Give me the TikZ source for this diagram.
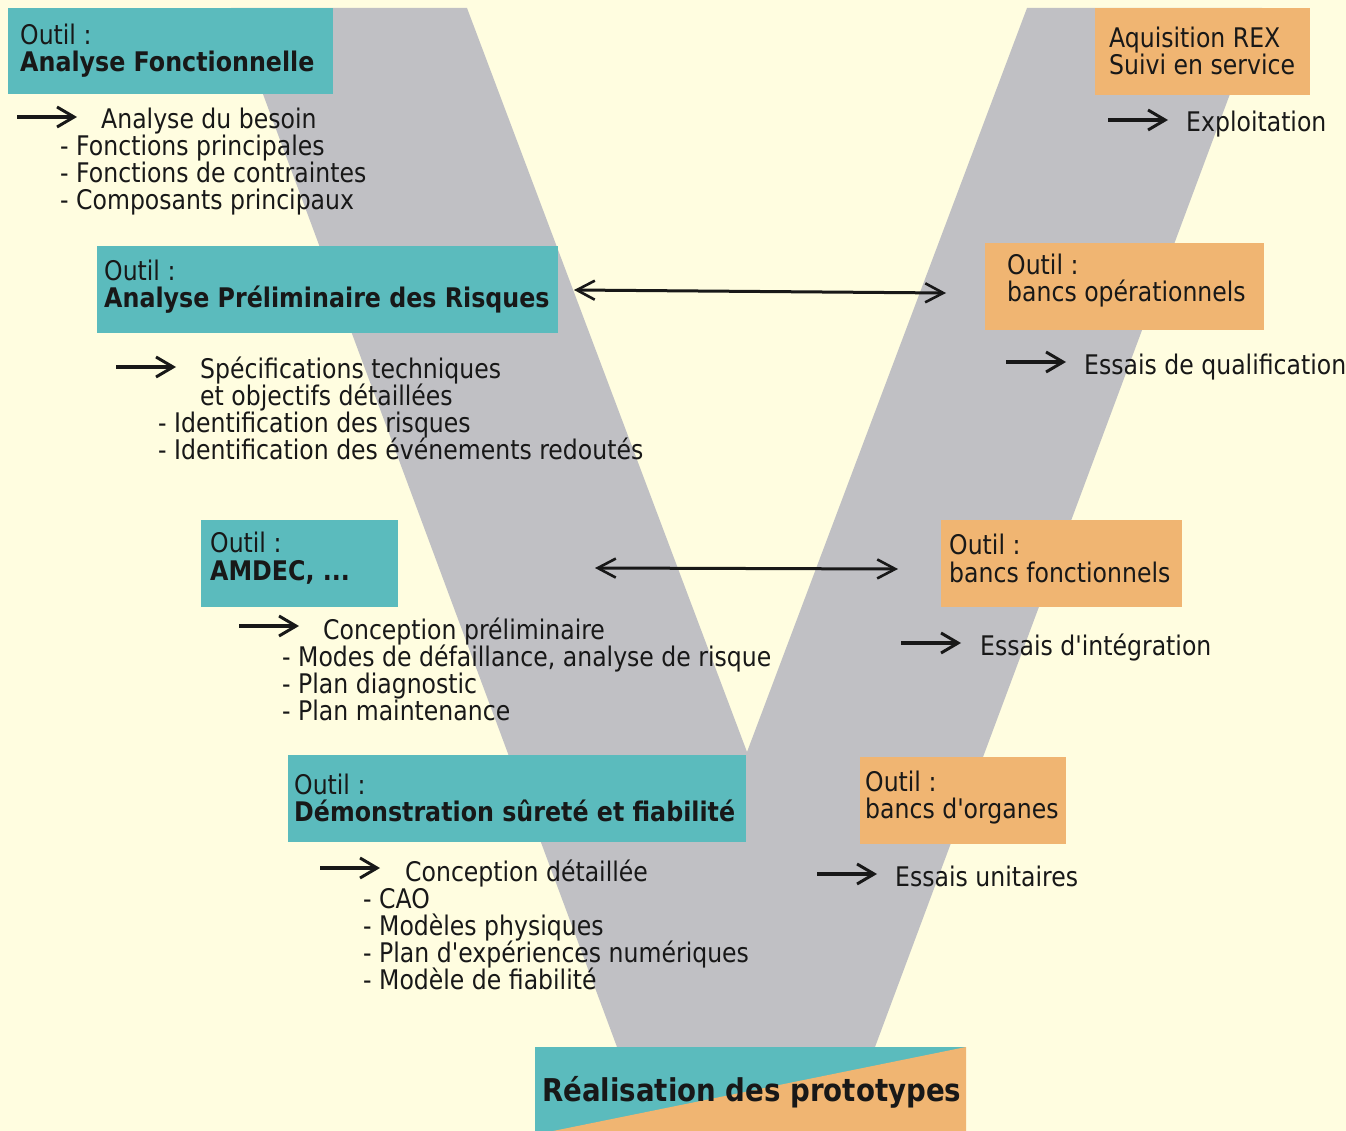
\documentclass[tikz,border=0pt]{standalone}
\usepackage{fontspec}
\setmainfont{DejaVu Sans}[FakeStretch=0.873, Ligatures=TeXOff, BoldFeatures={FakeStretch=0.88}]
\usetikzlibrary{arrows.meta}
\definecolor{bgcream}{RGB}{255,253,224}
\definecolor{vgrey}{RGB}{192,192,196}
\definecolor{tealbox}{RGB}{91,187,189}
\definecolor{orangebox}{RGB}{240,181,114}
\definecolor{ink}{RGB}{24,24,24}
\begin{document}
\begin{tikzpicture}[x=1pt,y=-1pt,
  box/.style={fill=#1, draw=none, anchor=north west, inner sep=0pt, outer sep=0pt},
  txt/.style={anchor=base west, inner sep=0pt, text=ink, font=\fontsize{27}{27}\selectfont},
  btxt/.style={anchor=base west, inner sep=0pt, text=ink, font=\fontsize{27}{27}\selectfont\bfseries},
  lead/.style={draw=ink, line width=4pt, -{Straight Barb[length=17pt,width=20pt,line width=3pt]}},
  link/.style={draw=ink, line width=3pt, {Straight Barb[length=18pt,width=19pt,line width=2.6pt]}-{Straight Barb[length=18pt,width=19pt,line width=2.6pt]}}
]
% page
\fill[bgcream] (0,0) rectangle (1346,1131);
\useasboundingbox (0,0) rectangle (1346,1131);

% the V band
\fill[vgrey] (231,8) -- (467,8) -- (747,752) -- (1027,8) -- (1262,8)
  -- (875,1047) -- (617,1047) -- cycle;

% ---------- left branch : design ----------
\node[box=tealbox, minimum width=325pt, minimum height=86pt] (af) at (8,8) {};
\node[txt]  (afa) at (20,45) {Outil :};
\node[btxt] (afb) at (20,72) {Analyse Fonctionnelle};

\coordinate (l1s) at (17,117); \coordinate (l1e) at (77,117);
\draw[lead] (l1s) -- (l1e);
\node[txt] (t1a) at (101,129) {Analyse du besoin};
\node[txt] (t1b) at (60,156) {- Fonctions principales};
\node[txt] (t1c) at (60,183) {- Fonctions de contraintes};
\node[txt] (t1d) at (60,210) {- Composants principaux};

\node[box=tealbox, minimum width=461pt, minimum height=87pt] (apr) at (97,246) {};
\node[txt]  (apra) at (104,281) {Outil :};
\node[btxt] (aprb) at (104,308) {Analyse Préliminaire des Risques};

\coordinate (l2s) at (116,367); \coordinate (l2e) at (176,367);
\draw[lead] (l2s) -- (l2e);
\node[txt] (t2a) at (200,378) {Spécifications techniques};
\node[txt] (t2b) at (200,405) {et objectifs détaillées};
\node[txt] (t2c) at (158,432) {- Identification des risques};
\node[txt] (t2d) at (158,459) {- Identification des événements redoutés};

\node[box=tealbox, minimum width=197pt, minimum height=87pt] (amd) at (201,520) {};
\node[txt]  (amda) at (210,552) {Outil :};
\node[btxt] (amdb) at (210,580) {AMDEC, ...};

\coordinate (l3s) at (239,626); \coordinate (l3e) at (299,626);
\draw[lead] (l3s) -- (l3e);
\node[txt] (t3a) at (323,639) {Conception préliminaire};
\node[txt] (t3b) at (282,666) {- Modes de défaillance, analyse de risque};
\node[txt] (t3c) at (282,693) {- Plan diagnostic};
\node[txt] (t3d) at (282,720) {- Plan maintenance};

\node[box=tealbox, minimum width=458pt, minimum height=87pt] (dsf) at (288,755) {};
\node[txt]  (dsfa) at (294,794) {Outil :};
\node[btxt] (dsfb) at (294,821) {Démonstration sûreté et fiabilité};

\coordinate (l4s) at (320,868); \coordinate (l4e) at (380,868);
\draw[lead] (l4s) -- (l4e);
\node[txt] (t4a) at (405,881) {Conception détaillée};
\node[txt] (t4b) at (363,908) {- CAO};
\node[txt] (t4c) at (363,935) {- Modèles physiques};
\node[txt] (t4d) at (363,962) {- Plan d'expériences numériques};
\node[txt] (t4e) at (363,989) {- Modèle de fiabilité};

% ---------- right branch : tests ----------
\node[box=orangebox, minimum width=215pt, minimum height=87pt] (rex) at (1095,8) {};
\node[txt] (rexa) at (1109,48) {Aquisition REX};
\node[txt] (rexb) at (1109,75) {Suivi en service};

\coordinate (r1s) at (1108,120); \coordinate (r1e) at (1168,120);
\draw[lead] (r1s) -- (r1e);
\node[txt] (u1) at (1186,132) {Exploitation};

\node[box=orangebox, minimum width=279pt, minimum height=87pt] (bop) at (985,243) {};
\node[txt] (bopa) at (1007,275) {Outil :};
\node[txt] (bopb) at (1007,302) {bancs opérationnels};

\coordinate (r2s) at (1006,362); \coordinate (r2e) at (1066,362);
\draw[lead] (r2s) -- (r2e);
\node[txt] (u2) at (1084,374) {Essais de qualification};

\node[box=orangebox, minimum width=241pt, minimum height=87pt] (bfo) at (941,520) {};
\node[txt] (bfoa) at (949,554) {Outil :};
\node[txt] (bfob) at (949,582) {bancs fonctionnels};

\coordinate (r3s) at (901,643); \coordinate (r3e) at (961,643);
\draw[lead] (r3s) -- (r3e);
\node[txt] (u3) at (980,655) {Essais d'intégration};

\node[box=orangebox, minimum width=206pt, minimum height=87pt] (bor) at (860,757) {};
\node[txt] (bora) at (865,791) {Outil :};
\node[txt] (borb) at (865,818) {bancs d'organes};

\coordinate (r4s) at (817,874); \coordinate (r4e) at (877,874);
\draw[lead] (r4s) -- (r4e);
\node[txt] (u4) at (895,886) {Essais unitaires};

% ---------- correspondences between the two branches ----------
\coordinate (k1l) at (574,290); \coordinate (k1r) at (946,293);
\draw[link] (k1l) -- (k1r);
\coordinate (k2l) at (595,568); \coordinate (k2r) at (898,569);
\draw[link] (k2l) -- (k2r);

% ---------- bottom of the V ----------
\node[box=tealbox, minimum width=431pt, minimum height=84pt] (real) at (535,1047) {};
\fill[orangebox] (real.north east) -- (real.south east) -- (553,1131) -- cycle;
\node[anchor=base west, inner sep=0pt, text=ink, font=\fontsize{31.4}{32}\selectfont\bfseries]
  (realt) at (542,1101) {Réalisation des prototypes};
\end{tikzpicture}
\end{document}
